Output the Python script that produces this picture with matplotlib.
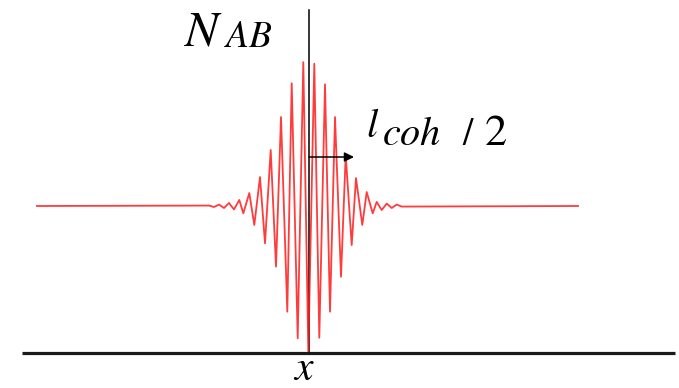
import matplotlib.pyplot as plt

plt.rcParams['mathtext.fontset'] = 'stix'

# positions of the signal extrema (offset from the centre line) and their height
# (1.0 = tallest fringe)
pos = [-271.5, -99.5, -94.5, -89.5, -84.5, -79.5, -74.5, -69.2, -65.2, -59.2,
       -54.2, -48.5, -43.5, -37.8, -32.5, -27.5, -21.2, -16.8, -10.8, -5.2,
       -0.2, 5.8, 10.8, 16.5, 21.5, 26.5, 32.5, 37.2, 43.2, 47.5,
       53.8, 58.2, 64.2, 68.2, 73.2, 78.2, 83.2, 88.2, 93.2, 269.5]
amp = [0.0, 0.003, -0.007, 0.01, -0.014, 0.021, -0.024, 0.042, -0.051, 0.09,
       -0.132, 0.201, -0.259, 0.389, -0.421, 0.618, -0.734, 0.852, -0.919, 0.999,
       -1.01, 0.988, -0.915, 0.845, -0.734, 0.618, -0.491, 0.354, -0.271, 0.194,
       -0.132, 0.097, -0.051, 0.028, -0.028, 0.017, -0.014, 0.01, -0.004, 0.0]

x0, y0, scale = 308.5, 206.0, 144.0  # picture centre and height of one unit


def at(px, py):
    return px - x0, (y0 - py) / scale


fig = plt.figure(figsize=(6.79, 3.88), dpi=100)
ax = fig.add_axes([0, 0, 1, 1])
ax.set_xlim(at(0, 0)[0], at(679, 0)[0])
ax.set_ylim(at(0, 388)[1], at(0, 0)[1])
ax.axis('off')

# axes drawn by hand
xa, ya = zip(at(22, 352.5), at(675, 352.5))
ax.plot(xa, ya, c='#1a1a1a', lw=2.3, solid_capstyle='butt', zorder=1)
xa, ya = zip(at(308.5, 10), at(308.5, 352))
ax.plot(xa, ya, c='black', lw=1.1, zorder=1)

ax.plot(pos, amp, c='#ff1a1a', lw=1.3, alpha=0.85, zorder=2)

ax.annotate('', xy=at(354, 157), xytext=at(309, 157),
            arrowprops=dict(arrowstyle='-|>', color='black', lw=1.1,
                            mutation_scale=14, shrinkA=0, shrinkB=0), zorder=3)

ax.text(*at(183, 45), r'$N$', fontsize=36, ha='left', va='baseline')
ax.text(*at(224, 47), r'$AB$', fontsize=27, ha='left', va='baseline')
ax.text(*at(366, 137), r'$l$', fontsize=29, ha='left', va='baseline')
ax.text(*at(382, 145), r'$coh$', fontsize=29, ha='left', va='baseline')
ax.text(*at(462, 145), r'$/$', fontsize=27, ha='left', va='baseline')
ax.text(*at(484, 145), r'$2$', fontsize=32, ha='left', va='baseline')
ax.text(*at(304, 380), r'$x$', fontsize=30, ha='center', va='baseline')

plt.savefig('out.png', dpi=100)
